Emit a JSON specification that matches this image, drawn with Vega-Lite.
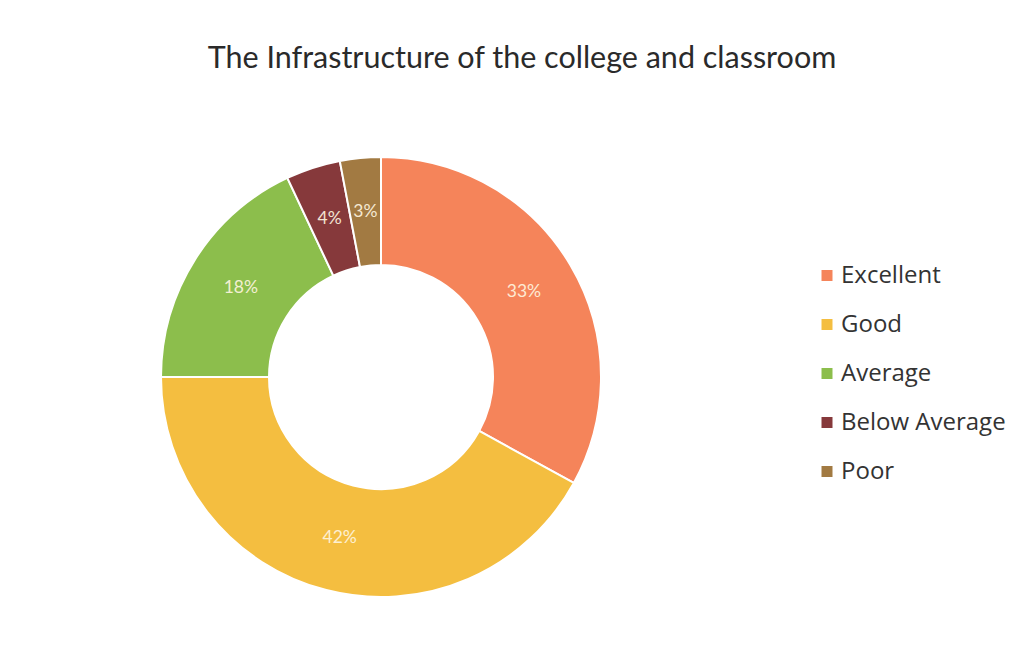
{
  "$schema": "https://vega.github.io/schema/vega-lite/v6.json",
  "autosize": "none",
  "width": 440,
  "height": 440,
  "padding": {"left": 161, "top": 157, "right": 424, "bottom": 62},
  "background": "white",
  "title": {
    "text": "The Infrastructure of the college and classroom",
    "font": "Lato",
    "fontSize": 30.5,
    "fontWeight": "normal",
    "color": "#2a2a2a",
    "anchor": "middle",
    "dx": 141,
    "offset": 79
  },
  "data": {
    "values": [
      {"category": "Excellent", "share": 0.33, "idx": 1},
      {"category": "Good", "share": 0.42, "idx": 2},
      {"category": "Average", "share": 0.18, "idx": 3},
      {"category": "Below Average", "share": 0.04, "idx": 4},
      {"category": "Poor", "share": 0.03, "idx": 5}
    ]
  },
  "encoding": {
    "theta": {"field": "share", "type": "quantitative", "stack": true},
    "order": {"field": "idx", "type": "quantitative"},
    "color": {
      "field": "category",
      "type": "nominal",
      "scale": {
        "domain": ["Excellent", "Good", "Average", "Below Average", "Poor"],
        "range": ["#F5845A", "#F4BE40", "#8CBE4C", "#86393B", "#A27A42"]
      },
      "legend": {
        "title": null,
        "orient": "none",
        "legendX": 654,
        "legendY": 106.5,
        "symbolType": "square",
        "symbolSize": 121,
        "symbolStrokeWidth": 0,
        "labelFont": "Open Sans",
        "labelFontSize": 24,
        "labelColor": "#333333",
        "labelLimit": 400,
        "rowPadding": 25,
        "labelOffset": 2
      }
    }
  },
  "layer": [
    {
      "mark": {"type": "arc", "outerRadius": 220, "innerRadius": 112, "stroke": "white", "strokeWidth": 2}
    },
    {
      "mark": {"type": "text", "radius": 166, "font": "Lato", "fontSize": 17.5, "opacity": 0.9},
      "encoding": {
        "text": {"field": "share", "type": "quantitative", "format": ".0%"},
        "color": {"value": "#FFF6E0"}
      }
    }
  ],
  "config": {"view": {"stroke": null}}
}
